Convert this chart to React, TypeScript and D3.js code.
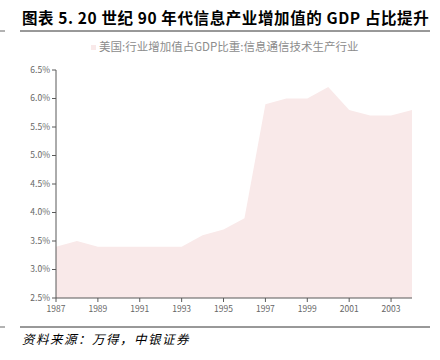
import React from 'react';
import * as d3 from 'd3';

const years = [1987, 1988, 1989, 1990, 1991, 1992, 1993, 1994, 1995, 1996, 1997, 1998, 1999, 2000, 2001, 2002, 2003, 2004];
const shares = [3.4, 3.5, 3.4, 3.4, 3.4, 3.4, 3.4, 3.6, 3.7, 3.9, 5.9, 6.0, 6.0, 6.2, 5.8, 5.7, 5.7, 5.8];
const yTicks = [2.5, 3.0, 3.5, 4.0, 4.5, 5.0, 5.5, 6.0, 6.5];
const xTicks = [1987, 1989, 1991, 1993, 1995, 1997, 1999, 2001, 2003];

const title = '图表 5. 20 世纪 90 年代信息产业增加值的 GDP 占比提升';
const legendLabel = '美国:行业增加值占GDP比重:信息通信技术生产行业';
const source = '资料来源：万得，中银证券';

const font = '"Noto Sans CJK SC", "DejaVu Sans", sans-serif';
const fill = '#f9e9e9';

const App = () => {
  const left = 56, right = 412, top = 70, bottom = 298;

  const xScale = d3.scaleLinear().domain([1987, 2004]).range([left, right]);
  const yScale = d3.scaleLinear().domain([2.5, 6.5]).range([bottom, top]);

  const area = d3.area<number>()
    .x((d, i) => xScale(years[i]))
    .y0(yScale(2.5))
    .y1(d => yScale(d));

  return (
    <svg width={440} height={360} style={{ position: 'absolute', left: 0, top: 0 }}>
      <rect width={440} height={360} fill="#fff" />
      <text x={22} y={24} fontFamily={font} fontWeight="bold" fontSize={15.5} letterSpacing={0.6} fill="#000">
        {title}
      </text>
      <line x1={0} x2={5} y1={31} y2={31} stroke="#666" />
      <line x1={20} x2={430} y1={31} y2={31} stroke="#333" strokeWidth={1} />

      <rect x={91} y={45} width={5} height={5} fill={fill} />
      <text x={99} y={51} fontFamily={font} fontSize={11.5} fill="#8c8c8c">{legendLabel}</text>

      <path d={area(shares) || ''} fill={fill} />

      <line x1={left} x2={left} y1={top} y2={bottom} stroke="#595959" />
      {yTicks.map(t => (
        <g key={t}>
          <line x1={left - 4} x2={left} y1={yScale(t)} y2={yScale(t)} stroke="#595959" />
          <text x={left - 6} y={yScale(t)} dy="0.35em" textAnchor="end"
            fontFamily={font} fontSize={8.5} fill="#666">
            {t.toFixed(1) + '%'}
          </text>
        </g>
      ))}

      <line x1={left} x2={right} y1={bottom} y2={bottom} stroke="#595959" />
      {xTicks.map(t => (
        <g key={t}>
          <line x1={xScale(t)} x2={xScale(t)} y1={bottom} y2={bottom + 4} stroke="#595959" />
          <text x={xScale(t)} y={bottom + 14} textAnchor="middle"
            fontFamily={font} fontSize={8.5} fill="#666">
            {t}
          </text>
        </g>
      ))}

      <line x1={20} x2={430} y1={327} y2={327} stroke="#333" />
      <line x1={0} x2={5} y1={327} y2={327} stroke="#666" />
      <text x={22} y={344} fontFamily={font} fontStyle="italic" fontSize={12.5} letterSpacing={1.5} fill="#000">
        {source}
      </text>
    </svg>
  );
};

export default App;
